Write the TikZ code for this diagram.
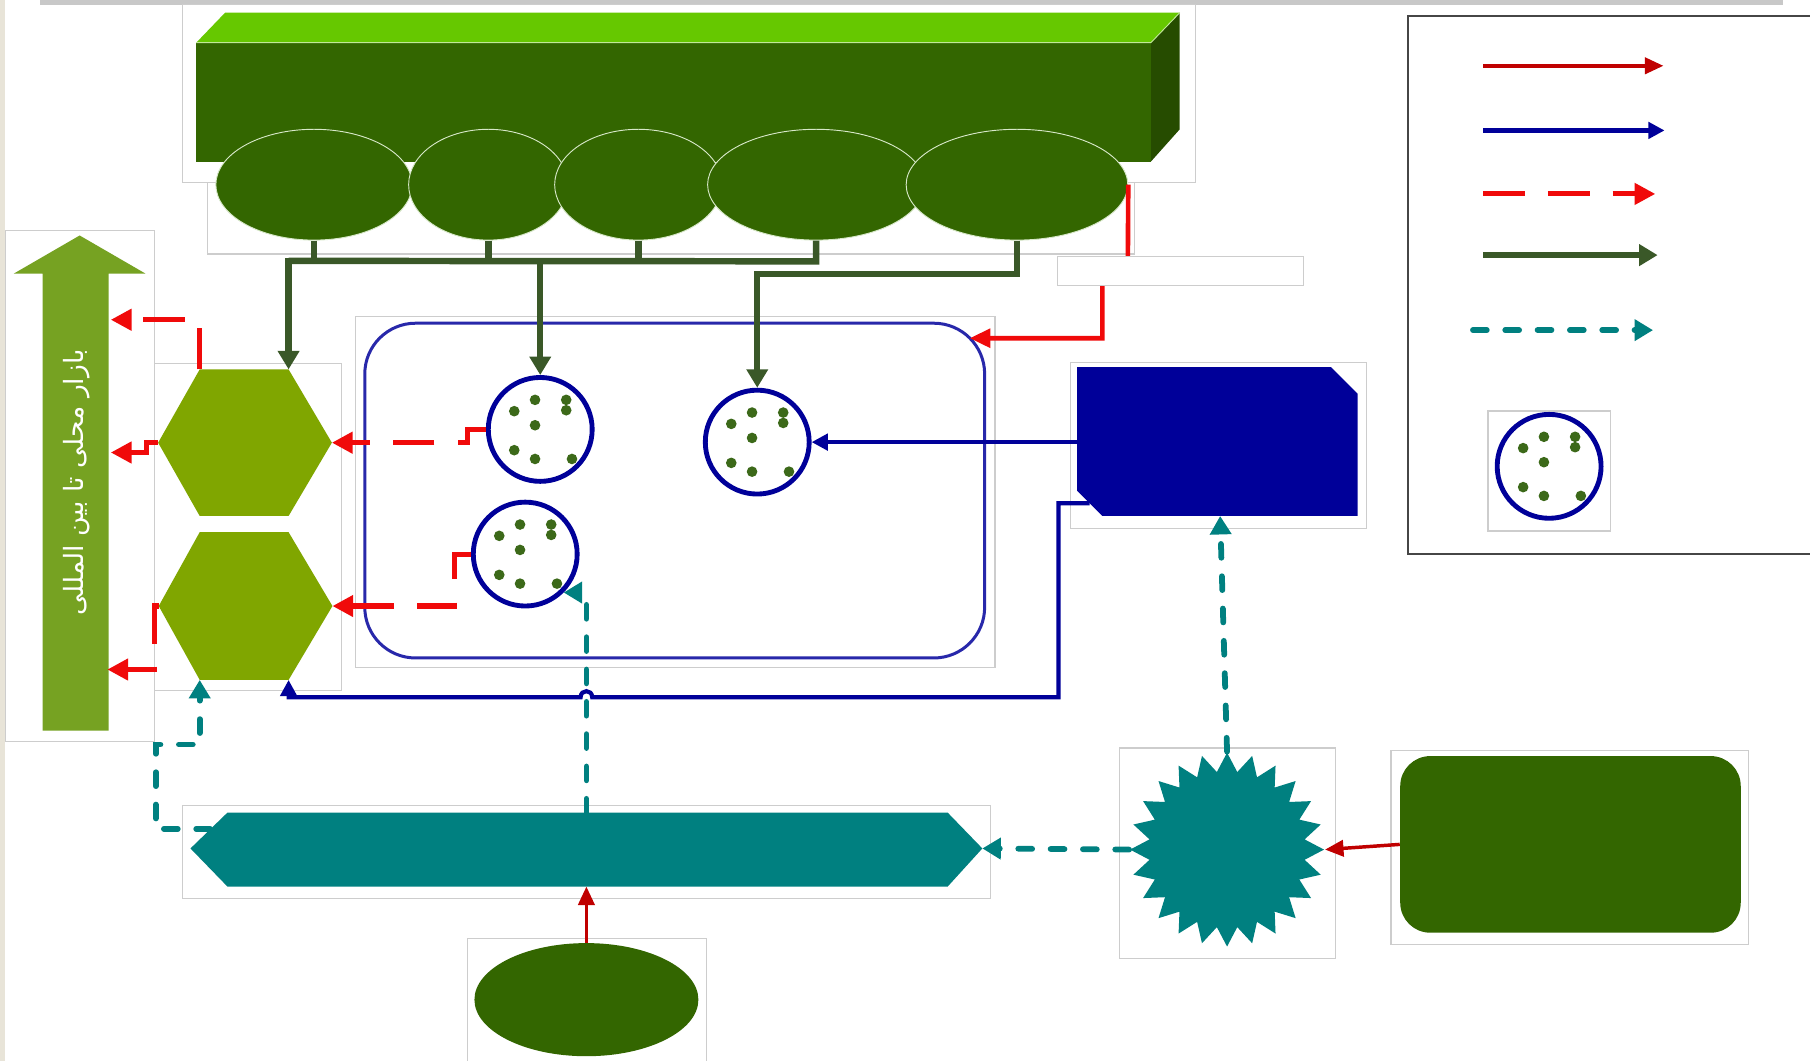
\documentclass[tikz,border=0pt]{standalone}
\usepackage{fontspec}
\usetikzlibrary{shapes.geometric,arrows.meta,calc}
\newfontfamily\arabicfont[Script=Arabic]{DejaVu Sans}
\TeXXeTstate=1
\definecolor{dkgreen}{RGB}{51,102,0}
\definecolor{topgreen}{RGB}{102,200,0}
\definecolor{sidegreen}{RGB}{38,76,0}
\definecolor{olivehex}{RGB}{128,166,0}
\definecolor{arrowgreen}{RGB}{118,162,34}
\definecolor{navyc}{RGB}{0,0,153}
\definecolor{rrblue}{RGB}{40,40,170}
\definecolor{redd}{RGB}{240,10,10}
\definecolor{darkred}{RGB}{192,0,0}
\definecolor{tealc}{RGB}{0,128,128}
\definecolor{connolive}{RGB}{58,88,40}
\definecolor{dotgreen}{RGB}{60,105,25}
\definecolor{framegray}{RGB}{205,205,205}
\definecolor{ellipseedge}{RGB}{215,232,200}
\definecolor{leftbeige}{RGB}{232,228,216}
\definecolor{topgray}{RGB}{200,200,200}
\definecolor{legendgray}{RGB}{70,70,70}
\tikzset{
  frame/.style={draw=framegray, line width=0.5pt},
  ell/.style={ellipse, fill=dkgreen, draw=ellipseedge, line width=0.4pt, inner sep=0pt},
  cell/.style={circle, draw=navyc, line width=2.1pt, fill=white, minimum size=45pt, inner sep=0pt},
  oliveline/.style={draw=connolive, line width=2.8pt},
  olivearrow/.style={oliveline, -{Triangle[length=8pt,width=9pt]}},
  redarrow/.style={draw=redd, line width=2.2pt, dash pattern=on 18pt off 10pt, -{Triangle[length=9pt,width=9pt]}},
  tealarrow/.style={draw=tealc, line width=2.5pt, line cap=round, dash pattern=on 6pt off 8pt, -{Triangle[length=8pt,width=9pt]}},
  navyarrow/.style={draw=navyc, line width=1.8pt, -{Triangle[length=7pt,width=7pt]}},
  dredarrow/.style={draw=darkred, line width=1.5pt, -{Triangle[length=8pt,width=7pt]}},
  redsolid/.style={draw=redd, line width=2pt, -{Triangle[length=9pt,width=8pt]}}
}
\begin{document}
\begin{tikzpicture}[x=0.5pt,y=-0.5pt]
\useasboundingbox (0,0) rectangle (1568,919);
\clip (0,0) rectangle (1568,919);
\fill[white] (0,0) rectangle (1568,919);
\fill[leftbeige] (0,0) rectangle (4,919);
\fill[topgray] (35,0) rectangle (1545,4);

% picture frames
\draw[frame] (158,4) rectangle (1036,158);
\draw[frame] (180,158) rectangle (983,220);
\draw[frame] (5,200) rectangle (134,642);
\draw[frame] (134,315) rectangle (296,598);
\draw[frame] (308,274) rectangle (862,578);
\draw[frame] (927,314) rectangle (1184,458);
\draw[frame] (1289,356) rectangle (1395,460);
\draw[frame] (158,698) rectangle (858,778);
\draw[frame] (405,813) rectangle (612,925);
\draw[frame] (970,648) rectangle (1157,830);
\draw[frame] (1205,650) rectangle (1515,818);

% 3D bar
\fill[topgreen] (170,37) -- (195,11) -- (1022,11) -- (997,37) -- cycle;
\fill[sidegreen] (997,37) -- (1022,11) -- (1022,112) -- (997,140) -- cycle;
\fill[dkgreen] (170,37) rectangle (997,140);
\draw[white!60!topgreen, line width=0.4pt] (170,37) -- (997,37) -- (1022,11);

% ellipses
\node[ell, minimum width=85pt, minimum height=48pt] (e1) at (272,160) {};
\node[ell, minimum width=69pt, minimum height=48pt] (e2) at (423,160) {};
\node[ell, minimum width=72.5pt, minimum height=48pt] (e3) at (553,160) {};
\node[ell, minimum width=94pt, minimum height=48pt] (e4) at (707,160) {};
\node[ell, minimum width=96pt, minimum height=48pt] (e5) at (881,160) {};

% rounded rectangle
\node[draw=rrblue, line width=1.3pt, rounded corners=22pt, minimum width=268.5pt, minimum height=145pt, fill=white] (rr) at (584.5,425) {};
\coordinate (rrin) at (840,293);

% cells
\node[cell] (c1) at (468,372) {};
\node[cell] (c2) at (656,383) {};
\node[cell] (c3) at (455,480) {};
\node[cell] (c4) at (1342,404) {};
\foreach \c in {c1,c2,c3,c4}{
  \foreach \dx/\dy in {-4.5/-25.6, 22.5/-25.6, -22.5/-15.8, 22.5/-16.6, -4.5/-3.6, -22.5/18, -4.5/25.6, 27.5/25.6}
    \fill[dotgreen] ($(\c)+(\dx,\dy)$) circle (2.3pt);
}

% hexagons
\fill[olivehex] (173,320) -- (250,320) -- (287.5,383.5) -- (250,447) -- (173,447) -- (137,383.5) -- cycle;
\coordinate (h1nw) at (173,320);
\coordinate (h1ne) at (250,320);
\coordinate (h1e) at (287.5,383.5);
\coordinate (h1w) at (137,383.5);
\fill[olivehex] (173,461) -- (250,461) -- (288,525) -- (250,589) -- (173,589) -- (137.5,525) -- cycle;
\coordinate (h2e) at (288,525);
\coordinate (h2w) at (137.5,525);
\coordinate (h2se) at (250,589);
\coordinate (h2sw) at (173,589);

% big arrow
\fill[arrowgreen] (37,633) -- (37,237) -- (12,237) -- (69,204) -- (126,237) -- (94,237) -- (94,633) -- cycle;
\node[rotate=90, text=white, font=\arabicfont\fontsize{11.5}{13}\selectfont] (bigtxt) at (66,418) {\beginR بازار محلی تا بین المللی\endR};
\coordinate (ba1) at (96,277);
\coordinate (ba2) at (96,392);
\coordinate (ba3) at (93,580);

% blue shape
\fill[navyc] (933,318) -- (1153,318) -- (1176,341) -- (1176,447) -- (955,447) -- (933,425) -- cycle;
\coordinate (blw) at (933,383);
\coordinate (blsw) at (944,436);
\coordinate (bls) at (1057,447);

% long teal hexagon
\fill[tealc] (165,735) -- (197,704) -- (821,704) -- (851,735) -- (821,768) -- (197,768) -- cycle;
\coordinate (lhwedge) at (182,718);
\coordinate (lhe) at (851,735);
\coordinate (lhn) at (508,704);
\coordinate (lhs) at (508,768);

% bottom ellipse
\node[ellipse, fill=dkgreen, inner sep=0pt, minimum width=97pt, minimum height=49pt] (eb) at (508,866) {};

% star
\node[star, star points=24, star point ratio=1.24, minimum size=84pt, inner sep=0pt, fill=tealc] (st) at (1063,736) {};

% green rounded rectangle
\node[fill=dkgreen, rounded corners=13pt, minimum width=147.5pt, minimum height=76.5pt, inner sep=0pt] (grr) at (1360.5,731.5) {};

% olive connectors
\draw[oliveline] (e2.south) -- ++(0,18);
\draw[oliveline] (e3.south) -- ++(0,18);
\draw[oliveline] (e4.south) -- ++(0,18) -- (250,226);
\draw[olivearrow] (e1.south) -- (272,226) -- (250,226) -- (h1ne);
\draw[olivearrow] (468,226) -- (c1.north);
\draw[olivearrow] (e5.south) -- ++(0,29) -| (c2.north);

% red dashed connectors
\draw[redarrow] (c1.west) -- ++(-16,0) |- (h1e);
\draw[redarrow] (c3.west) -- ++(-14,0) |- (h2e);
\draw[redarrow] (h1nw) -- (173,277) -- (ba1);
\draw[redarrow] (h1w) -- (127,383.5) -- (127,392) -- (ba2);
\draw[redarrow] (h2w) -- (134,525) -- (134,580) -- (ba3);

% red solid connector
\draw[redsolid] (e5.east) -- (977,235) -- (955,235) -- (955,293) -- (rrin);
\node[draw=framegray, fill=white, line width=0.5pt, minimum width=106.5pt, minimum height=12.5pt, inner sep=0pt] (tb) at (1022.5,234.5) {};

% navy connectors
\draw[navyarrow] (blw) -- (c2.east);
\draw[navyarrow] (blsw) -- (917,436) -- (917,604) -- (513,604) .. controls (513,597) and (503,597) .. (503,604) -- (250,604) -- (h2se);

% dark red connectors
\draw[dredarrow] (grr.west) -- (st.east);
\draw[dredarrow] (eb.north) -- (lhs);

% teal dashed connectors
\draw[tealarrow] (st.north) -- (bls);
\draw[tealarrow] (st.west) -- (lhe);
\draw[tealarrow] (lhn) |- (c3.-45);
\draw[tealarrow] (lhwedge) -- (135,718) -- (135,645) -- (173,645) -- (h2sw);

% legend
\draw[draw=legendgray, line width=0.8pt] (1220,14) rectangle (1590,480);
\coordinate (l1a) at (1285,57);  \coordinate (l1b) at (1441,57);
\coordinate (l2a) at (1285,113); \coordinate (l2b) at (1442,113);
\coordinate (l3a) at (1285,168); \coordinate (l3b) at (1434,168);
\coordinate (l4a) at (1285,221); \coordinate (l4b) at (1436,221);
\coordinate (l5a) at (1276,286); \coordinate (l5b) at (1432,286);
\draw[dredarrow] (l1a) -- (l1b);
\draw[navyarrow] (l2a) -- (l2b);
\draw[redarrow] (l3a) -- (l3b);
\draw[olivearrow] (l4a) -- (l4b);
\draw[tealarrow] (l5a) -- (l5b);
\end{tikzpicture}
\end{document}
